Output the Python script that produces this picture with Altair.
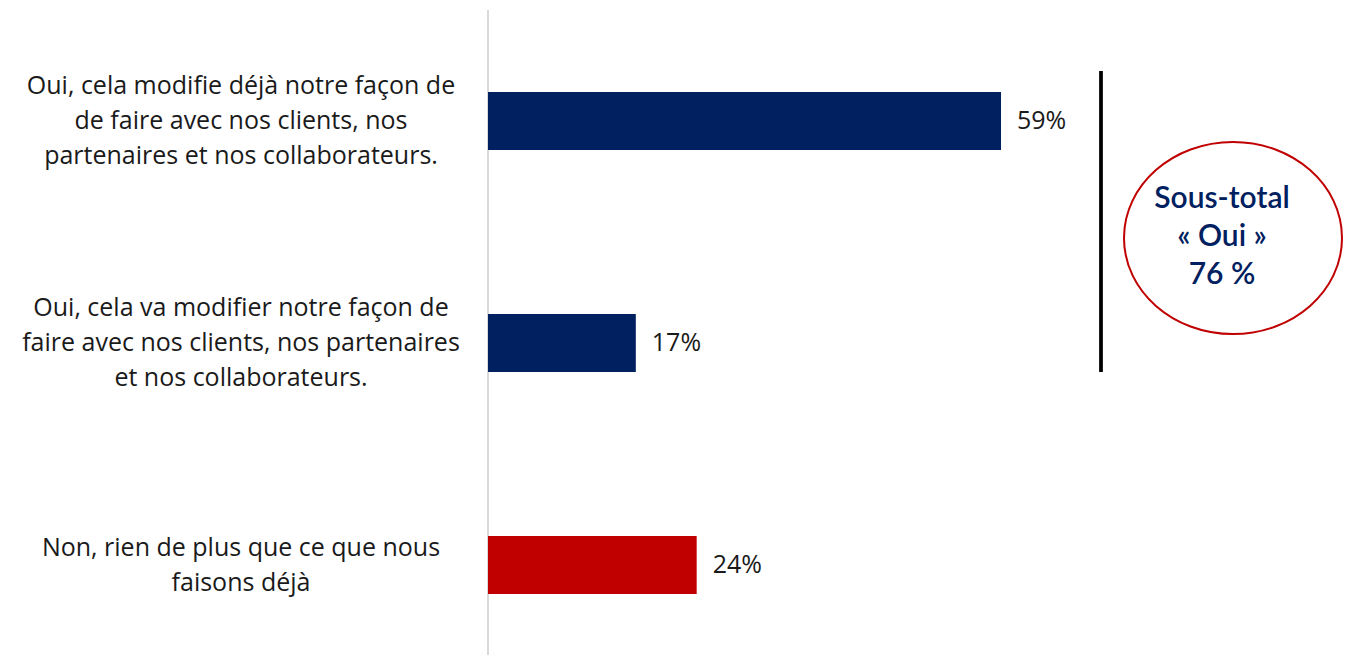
import altair as alt
import pandas as pd

# ---- data ----
labels = [
    "Oui, cela modifie déjà notre façon de\nde faire avec nos clients, nos\npartenaires et nos collaborateurs.",
    "Oui, cela va modifier notre façon de\nfaire avec nos clients, nos partenaires\net nos collaborateurs.",
    "Non, rien de plus que ce que nous\nfaisons déjà",
]
values = [59, 17, 24]
groups = ["oui", "oui", "non"]
subtotal_lines = ["Sous-total", "« Oui »"]

NAVY = "#002060"
RED = "#C00000"
FONT = "Open Sans"
TXT = "#1a1a1a"
LH = 35

total_yes = sum(v for v, g in zip(values, groups) if g == "oui")

df = pd.DataFrame({"label": labels, "value": values, "group": groups})
sub_df = pd.DataFrame({"t": [subtotal_lines + [f"{total_yes} %"]]})

W, H = 855, 645

y_enc = alt.Y(
    "label:N",
    sort=labels,
    axis=None,
    scale=alt.Scale(range=[0, 666], paddingInner=0.7387, paddingOuter=0.369),
)
x_scale = alt.Scale(domain=[0, 98.33], nice=False, zero=True)

base = alt.Chart(df)

bars = base.mark_bar().encode(
    x=alt.X("value:Q", scale=x_scale, axis=None),
    y=y_enc,
    color=alt.Color(
        "group:N",
        scale=alt.Scale(domain=["oui", "non"], range=[NAVY, RED]),
        legend=None,
    ),
)

values_text = base.transform_calculate(
    txt="datum.value + '%'"
).mark_text(
    align="left", baseline="middle", dx=16, font=FONT, fontSize=25, color=TXT
).encode(
    x=alt.X("value:Q", scale=x_scale, axis=None),
    y=y_enc,
    text="txt:N",
)


def label_layer(n):
    return base.transform_calculate(
        lines="split(datum.label, '\\n')"
    ).transform_calculate(
        n="length(datum.lines)"
    ).transform_filter(
        f"datum.n == {n}"
    ).mark_text(
        align="center", baseline="middle", font=FONT, fontSize=25, lineHeight=LH,
        color=TXT, dy=-(n - 1) * LH / 2,
    ).encode(
        x=alt.value(-247),
        y=y_enc,
        text="lines:N",
    )


cat_layers = [label_layer(n) for n in (1, 2, 3)]

axis_line = base.mark_rule(color="#D9D9D9", strokeWidth=2).encode(
    x=alt.value(0), y=alt.value(0), y2=alt.value(H)
)

bracket = base.mark_rule(color="#000000", strokeWidth=3).encode(
    x=alt.value(613), y=alt.value(61), y2=alt.value(362)
)

k = 0.881
c = 0.5523
ellipse_path = (
    f"M 1 0 C 1 {c*k:.4f} {c:.4f} {k} 0 {k} "
    f"C -{c:.4f} {k} -1 {c*k:.4f} -1 0 "
    f"C -1 -{c*k:.4f} -{c:.4f} -{k} 0 -{k} "
    f"C {c:.4f} -{k} 1 -{c*k:.4f} 1 0 Z"
)
ellipse = alt.Chart(sub_df).mark_point(
    shape=ellipse_path, filled=False, stroke=RED, strokeWidth=2, size=218 * 218, opacity=1
).encode(x=alt.value(745), y=alt.value(228))

sub_text = alt.Chart(sub_df).mark_text(
    align="center", baseline="middle", font="Lato", fontSize=30, fontWeight=600,
    lineHeight=38, color=NAVY,
).encode(x=alt.value(734), y=alt.value(189), text="t:N")

chart = alt.layer(axis_line, bars, values_text, *cat_layers, bracket, ellipse, sub_text).properties(
    width=W,
    height=H,
    padding={"left": 480, "top": 2, "right": 0, "bottom": 0},
    autosize=alt.AutoSizeParams(type="none"),
).configure_view(stroke=None)

chart.save("out.html", embed_options={"renderer": "svg", "actions": False})
